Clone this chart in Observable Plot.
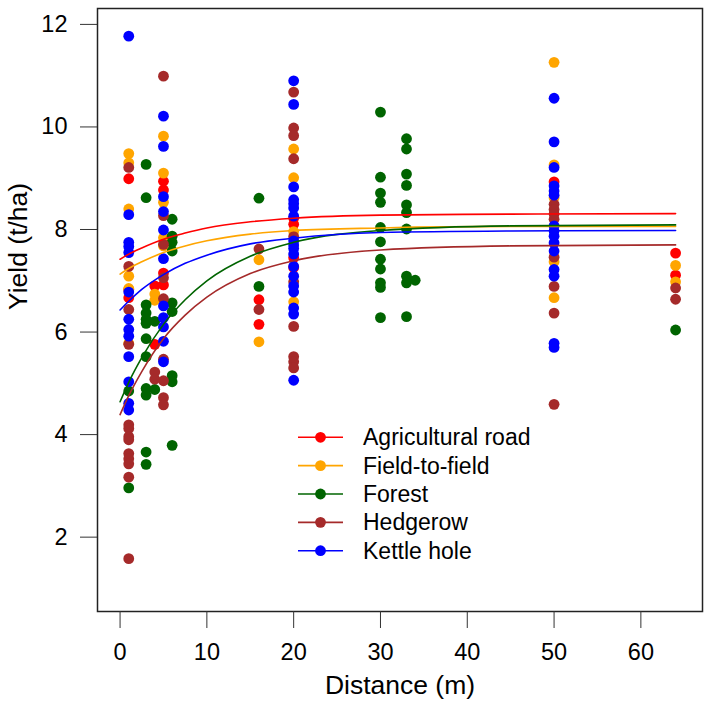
<!DOCTYPE html>
<html><head><meta charset="utf-8">
<script src="https://cdn.jsdelivr.net/npm/d3@7"></script>
<script src="https://cdn.jsdelivr.net/npm/@observablehq/plot@0.6"></script>
<style>
body{margin:0;background:#fff;}
#chart{width:709px;height:712px;}
</style>
</head><body><div id="chart"></div>
<script>
// ---------- data ----------
const categories = ["Agricultural road", "Field-to-field", "Forest", "Hedgerow", "Kettle hole"];
const colors = ["#ff0000", "#ffa500", "#006400", "#a52a2a", "#0000ff"];
const xTicks = [0, 10, 20, 30, 40, 50, 60];
const yTicks = [2, 4, 6, 8, 10, 12];

// [distance (m), yield (t/ha)]
const agriculturalRoad = [
  [1, 8.99], [1, 6.83], [1, 6.67],
  [4, 6.90], [4, 5.76],
  [5, 8.94], [5, 8.77], [5, 7.15], [5, 6.92],
  [16, 6.63], [16, 6.15],
  [20, 8.22], [20, 8.10], [20, 7.45], [20, 7.26],
  [50, 8.93],
  [64, 7.54], [64, 7.11]
];
const fieldToField = [
  [1, 9.48], [1, 9.30], [1, 8.40], [1, 7.09], [1, 6.85], [1, 5.78],
  [4, 6.74], [4, 6.62],
  [5, 9.82], [5, 9.10], [5, 8.53], [5, 7.84], [5, 7.68],
  [16, 7.41], [16, 5.81],
  [20, 9.57], [20, 9.01], [20, 7.96], [20, 6.59],
  [50, 11.26], [50, 9.26], [50, 8.62], [50, 7.37], [50, 6.67],
  [64, 7.30], [64, 6.98]
];
const forest = [
  [1, 4.85], [1, 2.96],
  [3, 9.27], [3, 8.62], [3, 6.53], [3, 6.37], [3, 6.25], [3, 6.17], [3, 5.87], [3, 5.52], [3, 4.90], [3, 4.77], [3, 3.66], [3, 3.42],
  [4, 6.21], [4, 4.88],
  [6, 8.20], [6, 7.87], [6, 7.75], [6, 7.58], [6, 6.57], [6, 6.40], [6, 5.15], [6, 5.03], [6, 3.79],
  [16, 8.61], [16, 6.89],
  [30, 10.29], [30, 9.02], [30, 8.71], [30, 8.53], [30, 8.04], [30, 7.76], [30, 7.42], [30, 7.23], [30, 6.96], [30, 6.87], [30, 6.28],
  [33, 9.77], [33, 9.57], [33, 9.08], [33, 8.86], [33, 8.48], [33, 8.33], [33, 8.01], [33, 7.09], [33, 6.96], [33, 6.30],
  [34, 7.01],
  [64, 6.04]
];
const hedgerow = [
  [1, 9.21], [1, 7.28], [1, 6.44], [1, 5.76], [1, 4.19], [1, 4.12], [1, 3.96], [1, 3.90], [1, 3.63], [1, 3.53], [1, 3.43], [1, 3.17], [1, 1.58],
  [4, 5.22], [4, 5.08],
  [5, 10.99], [5, 8.27], [5, 7.71], [5, 7.06], [5, 6.65], [5, 5.47], [5, 5.05], [5, 4.72], [5, 4.58],
  [16, 7.62], [16, 6.44],
  [20, 10.68], [20, 9.98], [20, 9.83], [20, 9.38], [20, 7.86], [20, 6.98], [20, 6.11], [20, 5.52], [20, 5.42], [20, 5.30],
  [50, 8.49], [50, 8.39], [50, 8.30], [50, 8.20], [50, 7.46], [50, 6.89], [50, 6.37], [50, 4.59],
  [64, 6.86], [64, 6.64]
];
const kettleHole = [
  [1, 11.77], [1, 8.29], [1, 7.75], [1, 7.67], [1, 7.55], [1, 6.78], [1, 6.25], [1, 6.05], [1, 5.92], [1, 5.52], [1, 5.03], [1, 4.61], [1, 4.48],
  [5, 10.21], [5, 9.62], [5, 8.64], [5, 8.35], [5, 7.99], [5, 7.43], [5, 6.51], [5, 6.28], [5, 6.10], [5, 5.82], [5, 5.42],
  [20, 10.90], [20, 10.44], [20, 8.83], [20, 8.58], [20, 8.50], [20, 8.42], [20, 8.26], [20, 7.78], [20, 7.70], [20, 7.63], [20, 7.52], [20, 7.28], [20, 7.09], [20, 6.90], [20, 6.78], [20, 6.47], [20, 6.35], [20, 5.06],
  [50, 10.56], [50, 9.71], [50, 9.21], [50, 8.85], [50, 8.75], [50, 8.67], [50, 8.07], [50, 7.97], [50, 7.87], [50, 7.74], [50, 7.58], [50, 7.22], [50, 7.09], [50, 5.78], [50, 5.70]
];

// fitted curves, values at these distances
const curveX = [0, 1, 2.5, 5, 7.5, 10, 15, 20, 30, 45, 64];
const curveAgri   = [7.42, 7.52, 7.64, 7.81, 7.93, 8.03, 8.15, 8.22, 8.28, 8.30, 8.31];
const curveField  = [7.13, 7.24, 7.37, 7.55, 7.68, 7.78, 7.91, 7.98, 8.03, 8.06, 8.06];
const curveForest = [4.64, 5.02, 5.50, 6.15, 6.63, 7.00, 7.48, 7.75, 7.98, 8.07, 8.09];
const curveHedge  = [4.39, 4.76, 5.23, 5.87, 6.33, 6.68, 7.14, 7.39, 7.60, 7.68, 7.70];
const curveKettle = [6.43, 6.60, 6.83, 7.12, 7.34, 7.50, 7.72, 7.83, 7.94, 7.97, 7.98];

// ---------- build tables ----------
const pointSets = [agriculturalRoad, fieldToField, forest, hedgerow, kettleHole];
const curveSets = [curveAgri, curveField, curveForest, curveHedge, curveKettle];
const points = [];
pointSets.forEach((set, i) => set.forEach(([d, y]) => points.push({d, y, cat: categories[i]})));
const curves = [];
curveSets.forEach((vals, i) => vals.forEach((y, j) => curves.push({d: curveX[j], y, cat: categories[i]})));

const FONT = "'Liberation Sans', Arial, Helvetica, sans-serif";
const FS_TICK = 23.5;
const FS_TITLE = 26.5;
const FS_LEG = 23;

const plot = Plot.plot({
  width: 709,
  height: 712,
  marginLeft: 97,
  marginRight: 7,
  marginTop: 8,
  marginBottom: 101,
  style: {fontFamily: FONT, fontSize: FS_TICK + "px", background: "#fff", color: "#000"},
  x: {domain: [-2.6, 67.1], label: null},
  y: {domain: [0.55, 12.31], label: null},
  color: {domain: categories, range: colors},
  marks: [
    Plot.dot(points, {x: "d", y: "y", fill: "cat", r: 5.4, stroke: "none"}),
    Plot.line(curves, {x: "d", y: "y", z: "cat", stroke: "cat", strokeWidth: 1.6, curve: "monotone-x"}),
    Plot.frame({stroke: "#222", strokeWidth: 1.5}),
    Plot.axisX({ticks: xTicks, tickSize: 17, tickPadding: 15, fontSize: FS_TICK, label: null, stroke: "#333"}),
    Plot.axisY({ticks: yTicks, tickSize: 17, tickPadding: 13, fontSize: FS_TICK, label: null, stroke: "#333"}),
    Plot.text(["Distance (m)"], {text: d => d, frameAnchor: "bottom", dy: 82, fontSize: FS_TITLE}),
    Plot.text(["Yield (t/ha)"], {text: d => d, frameAnchor: "left", dx: -79, rotate: -90, fontSize: FS_TITLE})
  ]
});

// legend (no box), drawn inside the plot
const svg = d3.select(plot);
const lg = svg.append("g").attr("font-family", FONT).attr("font-size", FS_LEG).attr("text-anchor", "start");
categories.forEach((c, i) => {
  const y = 437.3 + i * 28.35;
  lg.append("line").attr("x1", 298).attr("x2", 343).attr("y1", y).attr("y2", y)
    .attr("stroke", colors[i]).attr("stroke-width", 1.6);
  lg.append("circle").attr("cx", 320.5).attr("cy", y).attr("r", 5.4).attr("fill", colors[i]);
  lg.append("text").attr("x", 363).attr("y", y).attr("dy", "0.35em").attr("fill", "#000")
    .attr("text-anchor", "start").text(c);
});

document.getElementById("chart").appendChild(plot);
</script>
</body></html>
